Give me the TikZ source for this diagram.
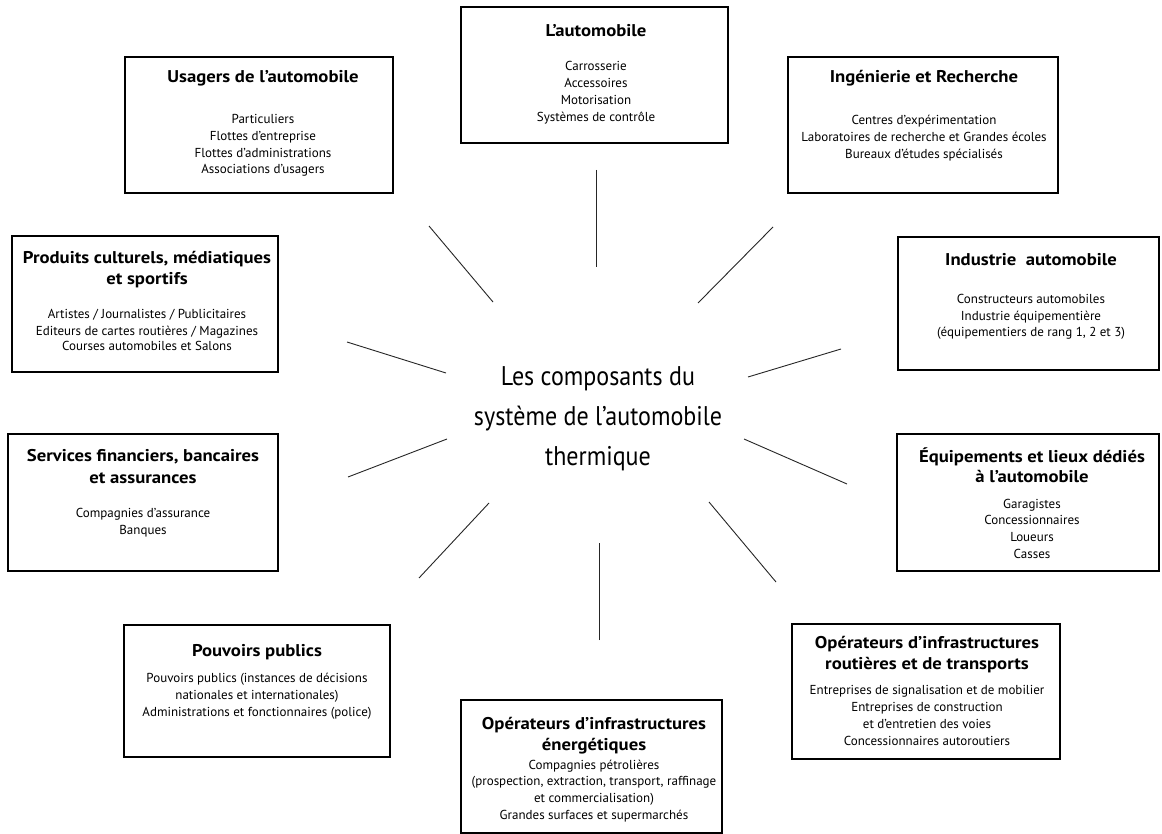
\documentclass[tikz,border=0pt]{standalone}
\usepackage{fontspec}
\setmainfont{PT Sans}
\newfontfamily\condfont[FakeStretch=0.89]{PT Sans}
\newfontfamily\ttlfont[FakeStretch=1.1]{PT Sans}
\tikzset{
  box/.style={draw=black, line width=1.3pt},
  spoke/.style={draw=black!85, line width=0.9pt},
  ttl/.style={anchor=base, inner sep=0pt, font=\ttlfont\fontsize{17}{20}\selectfont\bfseries},
  bdy/.style={anchor=base, inner sep=0pt, font=\fontsize{13}{16}\selectfont},
  ctr/.style={anchor=base, inner sep=0pt, font=\condfont\fontsize{27}{32}\selectfont},
}
\newcommand\txtlines[6]{% style, name, x, y, skip, list
  \foreach \l [count=\i from 0] in {#6} {
    \node[#1] (#2-\i) at (#3, {#4+\i*#5}) {\l};
  }
}
\newcommand\boxat[5]{% name, x1,y1,x2,y2
  \node[box, inner sep=0pt, minimum width={(#4-#2)*1pt}, minimum height={(#5-#3)*1pt}] (#1) at ({(#2+#4)/2},{(#3+#5)/2}) {};
}
\begin{document}
\begin{tikzpicture}[x=1pt,y=-1pt]
\useasboundingbox (0,0) rectangle (1162,834);
\fill[white] (0,0) rectangle (1162,834);

% boxes
\boxat{usa}{125}{57}{393}{193}
\boxat{aut}{461}{7}{728}{143}
\boxat{ing}{788}{57}{1058}{193}
\boxat{pro}{12}{236}{278}{372}
\boxat{ind}{898}{237}{1159}{370}
\boxat{ser}{8}{434}{278}{571}
\boxat{equ}{897}{434}{1159}{571}
\boxat{pou}{124}{625}{390}{757}
\boxat{rou}{792}{624}{1060}{759}
\boxat{ene}{461}{700}{722}{833}

% texts
\txtlines{ttl}{usaT}{263}{83}{21}{Usagers de l’automobile}
\txtlines{bdy}{usaB}{263}{124}{16.6}{Particuliers,Flottes d’entreprise,Flottes d’administrations,Associations d’usagers}

\txtlines{ttl}{autT}{596}{37}{21}{L’automobile}
\txtlines{bdy}{autB}{596}{71}{16.7}{Carrosserie,Accessoires,Motorisation,Systèmes de contrôle}

\txtlines{ttl}{ingT}{924}{83}{21}{Ingénierie et Recherche}
\txtlines{bdy}{ingB}{924}{125}{16.9}{Centres d’expérimentation,Laboratoires de recherche et Grandes écoles,Bureaux d’études spécialisés}

\txtlines{ttl}{proT}{147}{264}{21}{Produits culturels{,} médiatiques,et sportifs}
\txtlines{bdy}{proB}{147}{319}{16}{Artistes / Journalistes / Publicitaires,Editeurs de cartes routières / Magazines,Courses automobiles et Salons}

\txtlines{ttl}{indT}{1031}{266}{21}{Industrie\ \ automobile}
\txtlines{bdy}{indB}{1031}{304}{16.5}{Constructeurs automobiles,Industrie équipementière,{(équipementiers de rang 1, 2 et 3)}}

\txtlines{ttl}{serT}{143}{461}{22}{Services financiers{,} bancaires,et assurances}
\txtlines{bdy}{serB}{143}{517}{17}{Compagnies d’assurance,Banques}

\txtlines{ttl}{equT}{1032}{462}{20}{Équipements et lieux dédiés,à l’automobile}
\txtlines{bdy}{equB}{1032}{508}{16.8}{Garagistes,Concessionnaires,Loueurs,Casses}

\txtlines{ttl}{pouT}{257}{656}{21}{Pouvoirs publics}
\txtlines{bdy}{pouB}{257}{682}{17}{Pouvoirs publics (instances de décisions,nationales et internationales),Administrations et fonctionnaires (police)}

\txtlines{ttl}{rouT}{927}{648}{21}{Opérateurs d’infrastructures,routières et de transports}
\txtlines{bdy}{rouB}{927}{694}{17}{Entreprises de signalisation et de mobilier,Entreprises de construction,et d’entretien des voies,Concessionnaires autoroutiers}

\txtlines{ttl}{eneT}{594}{729}{21}{Opérateurs d’infrastructures,énergétiques}
\txtlines{bdy}{eneB}{594}{769}{16.8}{Compagnies pétrolières,{(prospection, extraction, transport, raffinage},et commercialisation),Grandes surfaces et supermarchés}

% centre
\txtlines{ctr}{c}{598}{385}{40}{Les composants du,système de l’automobile,thermique}

% spokes
\coordinate (s1a) at (596,170); \coordinate (s1b) at (596,267);
\coordinate (s2a) at (429,226); \coordinate (s2b) at (493,302);
\coordinate (s3a) at (773,227); \coordinate (s3b) at (698,303);
\coordinate (s4a) at (347,342); \coordinate (s4b) at (446,373);
\coordinate (s5a) at (841,349); \coordinate (s5b) at (748,377);
\coordinate (s6a) at (348,477); \coordinate (s6b) at (447,439);
\coordinate (s7a) at (847,484); \coordinate (s7b) at (744,439);
\coordinate (s8a) at (419,578); \coordinate (s8b) at (489,503);
\coordinate (s9a) at (599,640); \coordinate (s9b) at (599,543);
\coordinate (s10a) at (776,582); \coordinate (s10b) at (709,502);
\foreach \k in {1,...,10} { \draw[spoke] (s\k a) -- (s\k b); }
\end{tikzpicture}
\end{document}
